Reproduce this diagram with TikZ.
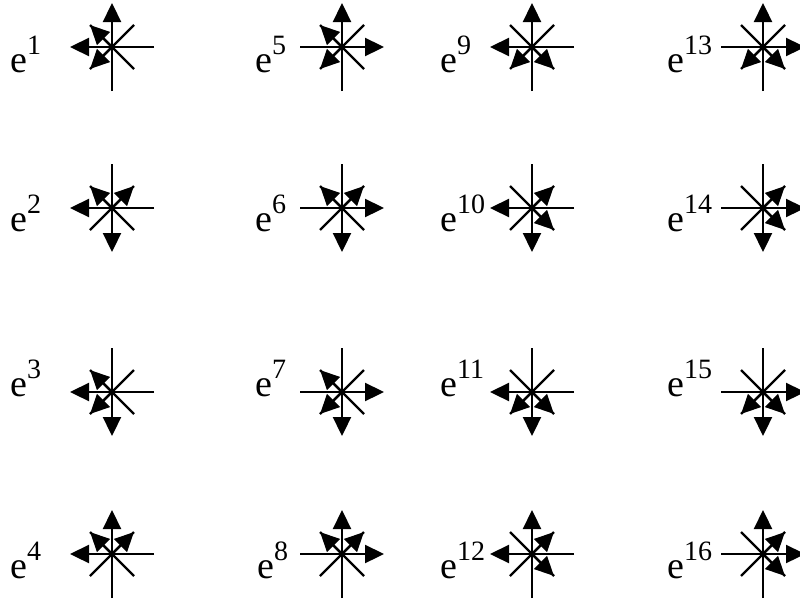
\documentclass[tikz,border=0pt]{standalone}
\usepackage{fontspec}
\setmainfont{Liberation Serif}
\usetikzlibrary{arrows.meta}
\tikzset{
  glyphline/.style={line width=2.3pt, black},
  arrowed/.style={glyphline, -{Triangle[length=19pt,width=18pt]}},
  lab/.style={anchor=base west, inner sep=0pt, font=\fontsize{38}{40}\selectfont}
}
\newcommand\elab[1]{e\raisebox{18pt}{\fontsize{28}{28}\selectfont #1}}
% #1 x, #2 y (image coords), #3 horizontal arrow side (+1 right, -1 left),
% #4 vertical arrow side (+1 up, -1 down), #5 #6 angles of arrowed diagonals
\newcommand\glyphat[6]{%
  \begin{scope}[shift={(#1pt,-#2pt)}]
    \draw[glyphline] (-22pt,-22pt) -- (22pt,22pt);
    \draw[glyphline] (-22pt,22pt) -- (22pt,-22pt);
    \draw[arrowed] ({-#3*42pt},0) -- ({#3*42pt},0);
    \draw[arrowed] (0,{-#4*44pt}) -- (0,{#4*44pt});
    \draw[arrowed] (0,0) -- (#5:31pt);
    \draw[arrowed] (0,0) -- (#6:31pt);
  \end{scope}}
\begin{document}
\begin{tikzpicture}[x=1pt,y=1pt]
\useasboundingbox (0,0) rectangle (800,-608);
% column 1
\glyphat{112}{47}{-1}{1}{135}{225}
\glyphat{112}{208}{-1}{-1}{135}{45}
\glyphat{112}{392}{-1}{-1}{135}{225}
\glyphat{112}{554}{-1}{1}{135}{45}
% column 2
\glyphat{342}{47}{1}{1}{135}{225}
\glyphat{342}{208}{1}{-1}{135}{45}
\glyphat{342}{392}{1}{-1}{135}{225}
\glyphat{342}{554}{1}{1}{135}{45}
% column 3
\glyphat{532}{47}{-1}{1}{225}{315}
\glyphat{532}{208}{-1}{-1}{45}{315}
\glyphat{532}{392}{-1}{-1}{225}{315}
\glyphat{532}{554}{-1}{1}{45}{315}
% column 4
\glyphat{763}{47}{1}{1}{225}{315}
\glyphat{763}{208}{1}{-1}{45}{315}
\glyphat{763}{392}{1}{-1}{225}{315}
\glyphat{763}{554}{1}{1}{45}{315}
% labels
\node[lab] (l1) at (10,-72) {\elab{1}};
\node[lab] (l2) at (10,-231) {\elab{2}};
\node[lab] (l3) at (10,-396) {\elab{3}};
\node[lab] (l4) at (10,-578) {\elab{4}};
\node[lab] (l5) at (255,-72) {\elab{5}};
\node[lab] (l6) at (255,-231) {\elab{6}};
\node[lab] (l7) at (255,-396) {\elab{7}};
\node[lab] (l8) at (257,-578) {\elab{8}};
\node[lab] (l9) at (440,-72) {\elab{9}};
\node[lab] (l10) at (440,-231) {\elab{10}};
\node[lab] (l11) at (440,-396) {\elab{11}};
\node[lab] (l12) at (440,-578) {\elab{12}};
\node[lab] (l13) at (667,-72) {\elab{13}};
\node[lab] (l14) at (667,-231) {\elab{14}};
\node[lab] (l15) at (667,-396) {\elab{15}};
\node[lab] (l16) at (667,-578) {\elab{16}};
\end{tikzpicture}
\end{document}
